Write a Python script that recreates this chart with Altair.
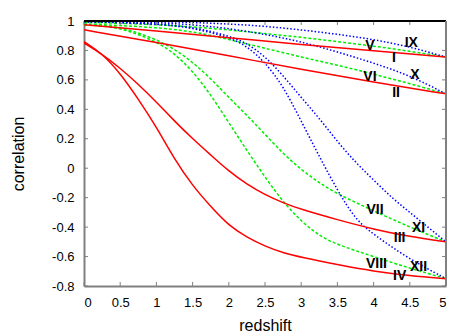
import altair as alt
import pandas as pd

# ---- tick values ----
X_TICKS = [0, 0.5, 1, 1.5, 2, 2.5, 3, 3.5, 4, 4.5, 5]
Y_TICKS = [-0.8, -0.6, -0.4, -0.2, 0, 0.2, 0.4, 0.6, 0.8, 1]

# ---- red solid series ----
I_x = [0, 1, 2, 3, 4, 5]
I_y = [0.975, 0.932, 0.887, 0.84, 0.797, 0.755]
II_x = [0, 1, 2, 3, 4, 5]
II_y = [0.94, 0.855, 0.765, 0.67, 0.585, 0.505]
III_x = [0, 0.25, 0.5, 0.75, 1, 1.25, 1.5, 1.75, 2, 2.25, 2.5, 2.75, 3, 3.5, 4, 4.5, 5]
III_y = [0.85, 0.775, 0.68, 0.57, 0.45, 0.32, 0.20, 0.09, -0.02, -0.11, -0.18, -0.235, -0.28, -0.35, -0.415, -0.465, -0.50]
IV_x = [0, 0.25, 0.5, 0.75, 1, 1.25, 1.5, 1.75, 2, 2.25, 2.5, 2.75, 3, 3.5, 4, 4.5, 5]
IV_y = [0.86, 0.78, 0.645, 0.47, 0.28, 0.06, -0.12, -0.26, -0.39, -0.47, -0.53, -0.575, -0.605, -0.655, -0.70, -0.73, -0.75]

# ---- green dashed series ----
V_x = [0, 0.5, 1, 1.5, 2, 2.5, 3, 3.5, 4, 4.5, 5]
V_y = [0.99, 0.985, 0.975, 0.96, 0.94, 0.915, 0.89, 0.86, 0.83, 0.795, 0.755]
VI_x = [0, 0.5, 1, 1.5, 2, 2.5, 3, 3.5, 4, 4.5, 5]
VI_y = [0.98, 0.97, 0.955, 0.93, 0.875, 0.815, 0.755, 0.70, 0.64, 0.575, 0.505]
VII_x = [0, 0.5, 1, 1.25, 1.5, 1.75, 2, 2.25, 2.5, 2.75, 3, 3.25, 3.5, 4, 4.5, 5]
VII_y = [0.975, 0.965, 0.875, 0.81, 0.72, 0.61, 0.48, 0.36, 0.23, 0.10, -0.01, -0.10, -0.175, -0.29, -0.40, -0.50]
VIII_x = [0, 0.5, 1, 1.25, 1.5, 1.75, 2, 2.25, 2.5, 2.75, 3, 3.25, 3.5, 4, 4.5, 5]
VIII_y = [0.975, 0.96, 0.86, 0.78, 0.66, 0.50, 0.31, 0.12, -0.06, -0.23, -0.36, -0.46, -0.52, -0.60, -0.68, -0.75]

# ---- blue dotted series ----
IX_x = [0, 0.5, 1, 1.5, 2, 2.5, 3, 3.5, 4, 4.5, 5]
IX_y = [1.0, 0.999, 0.997, 0.99, 0.98, 0.965, 0.94, 0.91, 0.875, 0.825, 0.755]
X_x = [0, 0.5, 1, 1.5, 2, 2.5, 3, 3.5, 4, 4.5, 5]
X_y = [0.995, 0.993, 0.99, 0.975, 0.95, 0.91, 0.86, 0.79, 0.715, 0.63, 0.505]
XI_x = [0, 0.5, 1, 1.5, 2, 2.25, 2.5, 2.75, 3, 3.25, 3.5, 3.75, 4, 4.25, 4.5, 4.75, 5]
XI_y = [0.995, 0.99, 0.98, 0.96, 0.90, 0.85, 0.76, 0.63, 0.48, 0.34, 0.18, 0.04, -0.08, -0.20, -0.30, -0.40, -0.50]
XII_x = [0, 0.5, 1, 1.5, 2, 2.25, 2.5, 2.75, 3, 3.25, 3.5, 3.75, 4, 4.5, 5]
XII_y = [0.995, 0.99, 0.98, 0.955, 0.89, 0.83, 0.72, 0.56, 0.32, 0.08, -0.15, -0.35, -0.45, -0.62, -0.75]

# ---- curve labels (data coordinates) ----
LABEL_TEXT = ["V", "IX", "I", "VI", "X", "II", "VII", "XI", "III", "VIII", "XII", "IV"]
LABEL_X = [3.95, 4.52, 4.28, 3.95, 4.57, 4.31, 4.02, 4.62, 4.36, 4.04, 4.62, 4.36]
LABEL_Y = [0.827, 0.85, 0.751, 0.622, 0.633, 0.509, -0.285, -0.403, -0.471, -0.648, -0.671, -0.734]

GROUPS = {
    "red": [("I", I_x, I_y), ("II", II_x, II_y), ("III", III_x, III_y), ("IV", IV_x, IV_y)],
    "green": [("V", V_x, V_y), ("VI", VI_x, VI_y), ("VII", VII_x, VII_y), ("VIII", VIII_x, VIII_y)],
    "blue": [("IX", IX_x, IX_y), ("X", X_x, X_y), ("XI", XI_x, XI_y), ("XII", XII_x, XII_y)],
}

def frame(items):
    rows = []
    for name, xs, ys in items:
        for xv, yv in zip(xs, ys):
            rows.append({"x": xv, "y": yv, "series": name})
    return pd.DataFrame(rows)

W, H = 362, 265
GRAY = "#808080"
FONT = "Liberation Sans"

xscale = alt.Scale(domain=[0, 5], nice=False, zero=False)
yscale = alt.Scale(domain=[-0.8, 1], nice=False, zero=False)
LBL = "replace(format(datum.value, '~g'), '\u2212', '-')"

xaxis = alt.Axis(values=X_TICKS, title="redshift", grid=False, ticks=False,
                 domainColor=GRAY, domainWidth=2, labelFont=FONT, labelFontSize=13,
                 labelColor="black", labelPadding=10, labelExpr=LBL,
                 titleFont=FONT, titleFontSize=16, titleFontWeight="normal",
                 titleColor="black", titlePadding=8)
yaxis = alt.Axis(values=Y_TICKS, title="correlation", grid=False, ticks=False,
                 domainColor=GRAY, domainWidth=2, labelFont=FONT, labelFontSize=13,
                 labelColor="black", labelPadding=10, labelExpr=LBL,
                 titleFont=FONT, titleFontSize=16, titleFontWeight="normal",
                 titleColor="black", titlePadding=25)

def X(field):
    return alt.X(field, scale=xscale, axis=xaxis)

def Y(field):
    return alt.Y(field, scale=yscale, axis=yaxis)

styles = {
    "red": dict(color="#ff0000", strokeWidth=1.5),
    "green": dict(color="#00ee00", strokeWidth=1.5, strokeDash=[3, 2]),
    "blue": dict(color="#0000ff", strokeWidth=1.5, strokeDash=[1.5, 2]),
}

layers = []
for g in ["green", "blue", "red"]:
    df = frame(GROUPS[g])
    layers.append(alt.Chart(df).mark_line(interpolate="basis", clip=True, **styles[g]).encode(
        x=X("x:Q"), y=Y("y:Q"), detail="series:N"))

# inward tick marks on all four sides
xt = pd.DataFrame({"x": X_TICKS})
yt = pd.DataFrame({"y": Y_TICKS})
layers.append(alt.Chart(xt).mark_rule(color=GRAY, strokeWidth=1).encode(
    x=X("x:Q"), y=alt.value(H), y2=alt.value(H - 4)))
layers.append(alt.Chart(xt).mark_rule(color=GRAY, strokeWidth=1).encode(
    x=X("x:Q"), y=alt.value(0), y2=alt.value(4)))
layers.append(alt.Chart(yt).mark_rule(color=GRAY, strokeWidth=1).encode(
    y=Y("y:Q"), x=alt.value(0), x2=alt.value(4)))
layers.append(alt.Chart(yt).mark_rule(color=GRAY, strokeWidth=1).encode(
    y=Y("y:Q"), x=alt.value(W), x2=alt.value(W - 4)))
# top and right borders
layers.append(alt.Chart(xt).mark_rule(color="black", strokeWidth=1.5).encode(
    x=alt.value(0), x2=alt.value(W), y=alt.value(0)))
layers.append(alt.Chart(xt).mark_rule(color=GRAY, strokeWidth=2).encode(
    x=alt.value(W), y=alt.value(0), y2=alt.value(H)))

lab = pd.DataFrame({"text": LABEL_TEXT, "x": LABEL_X, "y": LABEL_Y})
layers.append(alt.Chart(lab).mark_text(font=FONT, fontSize=14, fontWeight="bold", color="black",
                                       align="center", baseline="middle").encode(
    x=X("x:Q"), y=Y("y:Q"), text="text:N"))

chart = alt.layer(*layers).properties(
    width=W, height=H,
    autosize=alt.AutoSizeParams(type="none"),
    padding={"left": 76, "top": 13, "right": 20, "bottom": 49},
).configure_view(stroke="transparent")

chart.save("out.html", embed_options={"renderer": "svg", "actions": False})
